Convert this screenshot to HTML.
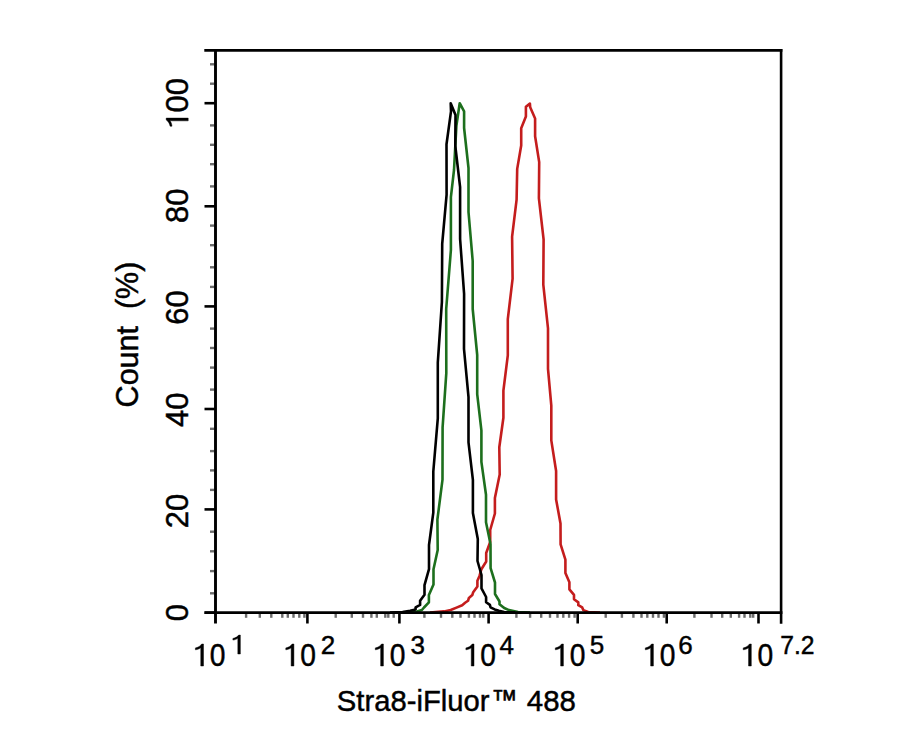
<!DOCTYPE html>
<html><head><meta charset="utf-8"><style>
html,body{margin:0;padding:0;background:#fff;}
svg{display:block;}
text,.t path{font-family:"Liberation Sans",sans-serif;fill:#000;stroke:#000;stroke-width:0.45px;}
.t path{vector-effect:non-scaling-stroke;}
</style></head><body>
<svg width="913" height="730" viewBox="0 0 913 730">
<rect width="913" height="730" fill="#fff"/>
<path d="M430.0,612.6 L444.0,611.4 L450.7,610.0 L456.5,607.6 L462.2,605.2 L465.1,602.8 L468.0,600.8 L468.9,598.0 L472.3,595.1 L473.2,592.2 L477.4,586.5 L477.4,580.7 L479.5,575.9 L481.4,569.2 L486.2,561.5 L486.2,553.0 L490.2,542.0 L490.2,530.0 L494.9,513.5 L494.9,498.0 L499.7,474.5 L499.3,447.2 L503.4,417.8 L503.4,390.6 L507.8,355.4 L507.8,319.2 L512.6,278.6 L512.1,236.6 L516.6,199.7 L517.2,168.9 L521.2,145.5 L521.2,128.3 L525.9,116.6 L525.9,106.7 L529.9,103.6 L530.2,107.3 L535.1,118.4 L535.1,136.3 L539.2,162.1 L538.9,198.3 L543.6,239.4 L543.3,284.6 L548.0,328.3 L548.0,368.9 L551.3,405.7 L551.3,440.4 L556.1,471.0 L556.1,499.4 L560.5,523.5 L560.6,544.4 L565.4,559.7 L565.4,572.9 L569.4,582.2 L569.4,589.3 L574.0,594.8 L574.0,599.2 L578.3,602.4 L578.3,605.2 L582.2,607.4 L583.3,610.1 L588.2,612.0 L600.0,612.6" stroke="#c41d1d" stroke-width="2.6" fill="none" stroke-linejoin="round"/>
<path d="M405.0,612.6 L417.0,611.5 L421.9,610.0 L424.0,607.5 L428.9,602.3 L428.9,595.0 L433.5,584.5 L433.5,569.2 L437.7,550.0 L437.4,519.5 L442.5,479.7 L442.6,427.4 L446.3,373.1 L446.2,309.0 L450.9,250.0 L450.9,197.1 L454.0,170.0 L456.4,125.7 L459.7,103.2 L464.1,111.4 L464.1,128.0 L468.5,168.0 L468.5,212.0 L472.7,261.0 L472.7,309.0 L477.2,355.0 L477.2,394.2 L481.4,430.4 L481.4,461.9 L486.0,494.8 L486.0,522.2 L490.5,544.0 L490.6,568.2 L495.0,582.5 L495.0,594.0 L499.5,601.5 L499.5,604.2 L504.2,608.0 L509.0,610.1 L518.0,612.0 L530.0,612.6" stroke="#1d6f1d" stroke-width="2.6" fill="none" stroke-linejoin="round"/>
<path d="M390.0,612.6 L402.6,612.0 L410.1,610.8 L415.6,609.4 L415.6,607.3 L420.1,604.9 L420.1,600.8 L424.5,594.7 L424.5,585.1 L429.0,569.2 L429.0,545.0 L433.3,512.6 L433.3,471.5 L437.8,418.3 L437.8,362.6 L441.9,302.0 L442.2,243.9 L446.6,194.6 L446.5,144.3 L451.0,111.4 L450.7,103.2 L455.5,115.0 L455.3,146.0 L460.1,187.2 L460.1,239.0 L464.1,293.8 L464.0,349.0 L468.5,397.2 L468.5,442.4 L472.9,479.9 L472.9,513.1 L477.8,539.0 L477.5,561.0 L481.5,575.0 L481.5,588.4 L486.1,597.0 L486.1,602.2 L489.9,604.9 L490.5,607.3 L494.7,609.4 L498.8,610.8 L504.2,612.0 L515.0,612.6" stroke="#000" stroke-width="2.6" fill="none" stroke-linejoin="round"/>
<line x1="210" y1="64.3" x2="214.5" y2="64.3" stroke="#6c6c6c" stroke-width="2.4"/>
<line x1="210" y1="83.7" x2="214.5" y2="83.7" stroke="#6c6c6c" stroke-width="2.4"/>
<line x1="210" y1="125.4" x2="214.5" y2="125.4" stroke="#6c6c6c" stroke-width="2.4"/>
<line x1="210" y1="144.8" x2="214.5" y2="144.8" stroke="#6c6c6c" stroke-width="2.4"/>
<line x1="210" y1="164.2" x2="214.5" y2="164.2" stroke="#6c6c6c" stroke-width="2.4"/>
<line x1="210" y1="186.4" x2="214.5" y2="186.4" stroke="#6c6c6c" stroke-width="2.4"/>
<line x1="210" y1="225.6" x2="214.5" y2="225.6" stroke="#6c6c6c" stroke-width="2.4"/>
<line x1="210" y1="245.2" x2="214.5" y2="245.2" stroke="#6c6c6c" stroke-width="2.4"/>
<line x1="210" y1="267.3" x2="214.5" y2="267.3" stroke="#6c6c6c" stroke-width="2.4"/>
<line x1="210" y1="286.9" x2="214.5" y2="286.9" stroke="#6c6c6c" stroke-width="2.4"/>
<line x1="210" y1="328.6" x2="214.5" y2="328.6" stroke="#6c6c6c" stroke-width="2.4"/>
<line x1="210" y1="348.0" x2="214.5" y2="348.0" stroke="#6c6c6c" stroke-width="2.4"/>
<line x1="210" y1="367.6" x2="214.5" y2="367.6" stroke="#6c6c6c" stroke-width="2.4"/>
<line x1="210" y1="389.6" x2="214.5" y2="389.6" stroke="#6c6c6c" stroke-width="2.4"/>
<line x1="210" y1="428.8" x2="214.5" y2="428.8" stroke="#6c6c6c" stroke-width="2.4"/>
<line x1="210" y1="451.1" x2="214.5" y2="451.1" stroke="#6c6c6c" stroke-width="2.4"/>
<line x1="210" y1="470.4" x2="214.5" y2="470.4" stroke="#6c6c6c" stroke-width="2.4"/>
<line x1="210" y1="489.9" x2="214.5" y2="489.9" stroke="#6c6c6c" stroke-width="2.4"/>
<line x1="210" y1="531.7" x2="214.5" y2="531.7" stroke="#6c6c6c" stroke-width="2.4"/>
<line x1="210" y1="551.3" x2="214.5" y2="551.3" stroke="#6c6c6c" stroke-width="2.4"/>
<line x1="210" y1="571.1" x2="214.5" y2="571.1" stroke="#6c6c6c" stroke-width="2.4"/>
<line x1="210" y1="593.3" x2="214.5" y2="593.3" stroke="#6c6c6c" stroke-width="2.4"/>
<line x1="246.1" y1="613.5" x2="246.1" y2="617.8" stroke="#6c6c6c" stroke-width="2.4"/>
<line x1="259.8" y1="613.5" x2="259.8" y2="617.8" stroke="#6c6c6c" stroke-width="2.4"/>
<line x1="271.3" y1="613.5" x2="271.3" y2="617.8" stroke="#6c6c6c" stroke-width="2.4"/>
<line x1="282.3" y1="613.5" x2="282.3" y2="617.8" stroke="#6c6c6c" stroke-width="2.4"/>
<line x1="287.8" y1="613.5" x2="287.8" y2="617.8" stroke="#6c6c6c" stroke-width="2.4"/>
<line x1="293.5" y1="613.5" x2="293.5" y2="617.8" stroke="#6c6c6c" stroke-width="2.4"/>
<line x1="299.3" y1="613.5" x2="299.3" y2="617.8" stroke="#6c6c6c" stroke-width="2.4"/>
<line x1="304.4" y1="613.5" x2="304.4" y2="617.8" stroke="#6c6c6c" stroke-width="2.4"/>
<line x1="335.7" y1="613.5" x2="335.7" y2="617.8" stroke="#6c6c6c" stroke-width="2.4"/>
<line x1="351.8" y1="613.5" x2="351.8" y2="617.8" stroke="#6c6c6c" stroke-width="2.4"/>
<line x1="363.0" y1="613.5" x2="363.0" y2="617.8" stroke="#6c6c6c" stroke-width="2.4"/>
<line x1="371.4" y1="613.5" x2="371.4" y2="617.8" stroke="#6c6c6c" stroke-width="2.4"/>
<line x1="376.8" y1="613.5" x2="376.8" y2="617.8" stroke="#6c6c6c" stroke-width="2.4"/>
<line x1="385.3" y1="613.5" x2="385.3" y2="617.8" stroke="#6c6c6c" stroke-width="2.4"/>
<line x1="388.3" y1="613.5" x2="388.3" y2="617.8" stroke="#6c6c6c" stroke-width="2.4"/>
<line x1="393.7" y1="613.5" x2="393.7" y2="617.8" stroke="#6c6c6c" stroke-width="2.4"/>
<line x1="424.4" y1="613.5" x2="424.4" y2="617.8" stroke="#6c6c6c" stroke-width="2.4"/>
<line x1="441.0" y1="613.5" x2="441.0" y2="617.8" stroke="#6c6c6c" stroke-width="2.4"/>
<line x1="452.3" y1="613.5" x2="452.3" y2="617.8" stroke="#6c6c6c" stroke-width="2.4"/>
<line x1="460.5" y1="613.5" x2="460.5" y2="617.8" stroke="#6c6c6c" stroke-width="2.4"/>
<line x1="468.9" y1="613.5" x2="468.9" y2="617.8" stroke="#6c6c6c" stroke-width="2.4"/>
<line x1="474.5" y1="613.5" x2="474.5" y2="617.8" stroke="#6c6c6c" stroke-width="2.4"/>
<line x1="480.0" y1="613.5" x2="480.0" y2="617.8" stroke="#6c6c6c" stroke-width="2.4"/>
<line x1="483.3" y1="613.5" x2="483.3" y2="617.8" stroke="#6c6c6c" stroke-width="2.4"/>
<line x1="516.4" y1="613.5" x2="516.4" y2="617.8" stroke="#6c6c6c" stroke-width="2.4"/>
<line x1="530.1" y1="613.5" x2="530.1" y2="617.8" stroke="#6c6c6c" stroke-width="2.4"/>
<line x1="541.2" y1="613.5" x2="541.2" y2="617.8" stroke="#6c6c6c" stroke-width="2.4"/>
<line x1="550.0" y1="613.5" x2="550.0" y2="617.8" stroke="#6c6c6c" stroke-width="2.4"/>
<line x1="557.5" y1="613.5" x2="557.5" y2="617.8" stroke="#6c6c6c" stroke-width="2.4"/>
<line x1="563.3" y1="613.5" x2="563.3" y2="617.8" stroke="#6c6c6c" stroke-width="2.4"/>
<line x1="569.1" y1="613.5" x2="569.1" y2="617.8" stroke="#6c6c6c" stroke-width="2.4"/>
<line x1="574.6" y1="613.5" x2="574.6" y2="617.8" stroke="#6c6c6c" stroke-width="2.4"/>
<line x1="605.7" y1="613.5" x2="605.7" y2="617.8" stroke="#6c6c6c" stroke-width="2.4"/>
<line x1="621.9" y1="613.5" x2="621.9" y2="617.8" stroke="#6c6c6c" stroke-width="2.4"/>
<line x1="633.4" y1="613.5" x2="633.4" y2="617.8" stroke="#6c6c6c" stroke-width="2.4"/>
<line x1="641.5" y1="613.5" x2="641.5" y2="617.8" stroke="#6c6c6c" stroke-width="2.4"/>
<line x1="647.3" y1="613.5" x2="647.3" y2="617.8" stroke="#6c6c6c" stroke-width="2.4"/>
<line x1="653.0" y1="613.5" x2="653.0" y2="617.8" stroke="#6c6c6c" stroke-width="2.4"/>
<line x1="658.5" y1="613.5" x2="658.5" y2="617.8" stroke="#6c6c6c" stroke-width="2.4"/>
<line x1="663.9" y1="613.5" x2="663.9" y2="617.8" stroke="#6c6c6c" stroke-width="2.4"/>
<line x1="694.4" y1="613.5" x2="694.4" y2="617.8" stroke="#6c6c6c" stroke-width="2.4"/>
<line x1="711.5" y1="613.5" x2="711.5" y2="617.8" stroke="#6c6c6c" stroke-width="2.4"/>
<line x1="722.2" y1="613.5" x2="722.2" y2="617.8" stroke="#6c6c6c" stroke-width="2.4"/>
<line x1="730.8" y1="613.5" x2="730.8" y2="617.8" stroke="#6c6c6c" stroke-width="2.4"/>
<line x1="739.1" y1="613.5" x2="739.1" y2="617.8" stroke="#6c6c6c" stroke-width="2.4"/>
<line x1="744.5" y1="613.5" x2="744.5" y2="617.8" stroke="#6c6c6c" stroke-width="2.4"/>
<line x1="750.3" y1="613.5" x2="750.3" y2="617.8" stroke="#6c6c6c" stroke-width="2.4"/>
<line x1="753.2" y1="613.5" x2="753.2" y2="617.8" stroke="#6c6c6c" stroke-width="2.4"/>
<line x1="204.5" y1="612.7" x2="215" y2="612.7" stroke="#000" stroke-width="2.6"/>
<line x1="204.5" y1="509.4" x2="215" y2="509.4" stroke="#000" stroke-width="2.6"/>
<line x1="204.5" y1="409.0" x2="215" y2="409.0" stroke="#000" stroke-width="2.6"/>
<line x1="204.5" y1="306.4" x2="215" y2="306.4" stroke="#000" stroke-width="2.6"/>
<line x1="204.5" y1="206.3" x2="215" y2="206.3" stroke="#000" stroke-width="2.6"/>
<line x1="204.5" y1="103.2" x2="215" y2="103.2" stroke="#000" stroke-width="2.6"/>
<line x1="307.4" y1="612" x2="307.4" y2="623.5" stroke="#000" stroke-width="2.6"/>
<line x1="399.4" y1="612" x2="399.4" y2="623.5" stroke="#000" stroke-width="2.6"/>
<line x1="488.6" y1="612" x2="488.6" y2="623.5" stroke="#000" stroke-width="2.6"/>
<line x1="577.7" y1="612" x2="577.7" y2="623.5" stroke="#000" stroke-width="2.6"/>
<line x1="666.7" y1="612" x2="666.7" y2="623.5" stroke="#000" stroke-width="2.6"/>
<line x1="758.5" y1="612" x2="758.5" y2="623.5" stroke="#000" stroke-width="2.6"/>
<line x1="215.5" y1="49.1" x2="215.5" y2="623.5" stroke="#000" stroke-width="2.9"/>
<line x1="781.1" y1="49.1" x2="781.1" y2="623.7" stroke="#000" stroke-width="2.6"/>
<line x1="204.3" y1="50.4" x2="782.4" y2="50.4" stroke="#000" stroke-width="2.6"/>
<line x1="204.5" y1="612.6" x2="782.4" y2="612.6" stroke="#000" stroke-width="2.6"/>
<g class="t" fill="#000" stroke="#000" stroke-width="0.45">
<text transform="translate(188.2,612.6) rotate(-90)" text-anchor="middle" font-size="31">0</text>
<text transform="translate(188.2,511.0) rotate(-90)" text-anchor="middle" font-size="31">20</text>
<text transform="translate(188.2,409.7) rotate(-90)" text-anchor="middle" font-size="31">40</text>
<text transform="translate(188.2,307.4) rotate(-90)" text-anchor="middle" font-size="31">60</text>
<text transform="translate(188.2,205.7) rotate(-90)" text-anchor="middle" font-size="31">80</text>
<g transform="translate(188.2,126.2) rotate(-90)"><path d="M5.35,0L8.1,0L8.1,-22L6.3,-22C5.2,-20.3 3.0,-18.6 0,-18.1L0,-16.2C2.2,-16.4 4.2,-17.2 5.35,-18.2Z" transform="translate(0.00,0.00) scale(1.000,1.000)"/><text x="13.6" y="0" font-size="31">00</text></g>
<path d="M5.35,0L8.1,0L8.1,-22L6.3,-22C5.2,-20.3 3.0,-18.6 0,-18.1L0,-16.2C2.2,-16.4 4.2,-17.2 5.35,-18.2Z" transform="translate(195.40,666.00) scale(1.000,1.000)"/>
<text transform="translate(209.80,666) scale(0.91,1)" font-size="31">0</text>
<path d="M5.35,0L8.1,0L8.1,-22L6.3,-22C5.2,-20.3 3.0,-18.6 0,-18.1L0,-16.2C2.2,-16.4 4.2,-17.2 5.35,-18.2Z" transform="translate(232.90,654.00) scale(0.920,0.860)"/>
<path d="M5.35,0L8.1,0L8.1,-22L6.3,-22C5.2,-20.3 3.0,-18.6 0,-18.1L0,-16.2C2.2,-16.4 4.2,-17.2 5.35,-18.2Z" transform="translate(285.80,666.00) scale(1.000,1.000)"/>
<text transform="translate(300.20,666) scale(0.91,1)" font-size="31">0</text>
<text transform="translate(320.8,654) scale(1.0,1)" font-size="26">2</text>
<path d="M5.35,0L8.1,0L8.1,-22L6.3,-22C5.2,-20.3 3.0,-18.6 0,-18.1L0,-16.2C2.2,-16.4 4.2,-17.2 5.35,-18.2Z" transform="translate(375.30,666.00) scale(1.000,1.000)"/>
<text transform="translate(389.70,666) scale(0.91,1)" font-size="31">0</text>
<text transform="translate(410.6,654) scale(1.0,1)" font-size="26">3</text>
<path d="M5.35,0L8.1,0L8.1,-22L6.3,-22C5.2,-20.3 3.0,-18.6 0,-18.1L0,-16.2C2.2,-16.4 4.2,-17.2 5.35,-18.2Z" transform="translate(465.90,666.00) scale(1.000,1.000)"/>
<text transform="translate(480.30,666) scale(0.91,1)" font-size="31">0</text>
<text transform="translate(499.6,654) scale(1.0,1)" font-size="26">4</text>
<path d="M5.35,0L8.1,0L8.1,-22L6.3,-22C5.2,-20.3 3.0,-18.6 0,-18.1L0,-16.2C2.2,-16.4 4.2,-17.2 5.35,-18.2Z" transform="translate(555.30,666.00) scale(1.000,1.000)"/>
<text transform="translate(569.70,666) scale(0.91,1)" font-size="31">0</text>
<text transform="translate(589.8,654) scale(1.0,1)" font-size="26">5</text>
<path d="M5.35,0L8.1,0L8.1,-22L6.3,-22C5.2,-20.3 3.0,-18.6 0,-18.1L0,-16.2C2.2,-16.4 4.2,-17.2 5.35,-18.2Z" transform="translate(645.30,666.00) scale(1.000,1.000)"/>
<text transform="translate(659.70,666) scale(0.91,1)" font-size="31">0</text>
<text transform="translate(678.3,654) scale(1.0,1)" font-size="26">6</text>
<path d="M5.35,0L8.1,0L8.1,-22L6.3,-22C5.2,-20.3 3.0,-18.6 0,-18.1L0,-16.2C2.2,-16.4 4.2,-17.2 5.35,-18.2Z" transform="translate(743.20,666.00) scale(1.000,1.000)"/>
<text transform="translate(757.60,666) scale(0.91,1)" font-size="31">0</text>
<text transform="translate(780.2,654) scale(0.95,1)" font-size="26">7.2</text>
<text transform="translate(336.8,711.3) scale(0.968,1)" font-size="30.2">Stra8-iFluor</text>
<text transform="translate(491.5,708.9) scale(0.88,0.92)" font-size="30" style="stroke-width:0.7px">™</text>
<text transform="translate(526.8,711.3) scale(0.975,1)" font-size="30.2">488</text>
<text transform="translate(138.3,334.5) rotate(-90)" text-anchor="middle" font-size="30.5">Count&#160;&#160;(%)</text>
</g>
</svg>
</body></html>
